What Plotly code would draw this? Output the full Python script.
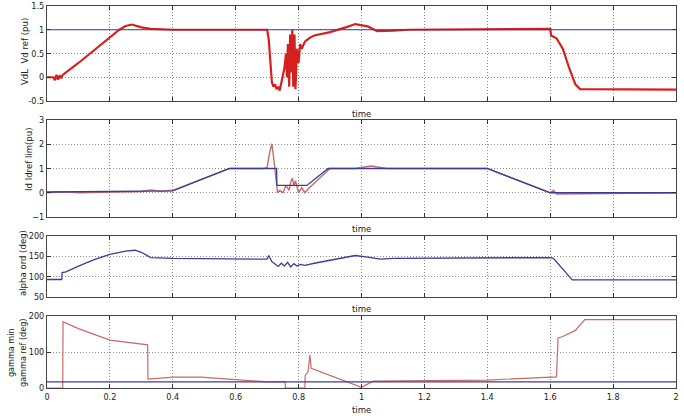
import plotly.graph_objects as go

# ---------------- data ----------------
t_vd = [0.0, 0.02, 0.025, 0.03, 0.035, 0.04, 0.045, 0.05, 0.1, 0.15, 0.2, 0.23, 0.25, 0.27, 0.3, 0.33, 0.4,
        0.7, 0.705, 0.71, 0.715, 0.72, 0.725, 0.73, 0.735, 0.74, 0.745, 0.75, 0.755, 0.76, 0.763, 0.766,
        0.77, 0.773, 0.776, 0.78, 0.783, 0.787, 0.79, 0.795, 0.80, 0.805, 0.81, 0.82, 0.835, 0.85, 0.9,
        0.95, 0.98, 1.02, 1.05, 1.1, 1.15, 1.6, 1.603, 1.62, 1.64, 1.66, 1.68, 1.695, 1.72, 2.0]
vd = [0.0, 0.0, -0.06, 0.05, -0.05, 0.04, -0.02, 0.05, 0.3, 0.57, 0.84, 1.0, 1.08, 1.11, 1.05, 1.02, 1.0,
      1.0, 0.8, 0.3, -0.1, -0.2, -0.15, -0.25, -0.2, -0.28, -0.1, 0.05, 0.2, 0.5, 0.0, 0.7,
      -0.2, 0.9, 0.1, 1.0, -0.2, 0.9, -0.25, 0.6, 0.3, 0.7, 0.6, 0.75, 0.83, 0.88, 0.95,
      1.05, 1.12, 1.07, 0.97, 0.98, 1.0, 1.02, 0.88, 0.82, 0.6, 0.2, -0.15, -0.25, -0.25, -0.26]
t_vdref = [0.0, 2.0]
vdref = [1.0, 1.0]

t_idref = [0.0, 0.3, 0.4, 0.58, 0.73, 0.731, 0.826, 0.894, 1.4, 1.6, 2.0]
idref = [0.03, 0.05, 0.08, 1.0, 1.0, 0.3, 0.3, 1.0, 1.0, 0.0, 0.0]
t_id = [0.0, 0.05, 0.1, 0.2, 0.3, 0.33, 0.36, 0.4, 0.58, 0.69, 0.70, 0.707, 0.715, 0.722, 0.733, 0.74,
        0.75, 0.76, 0.77, 0.775, 0.78, 0.785, 0.79, 0.80, 0.81, 0.82, 0.83, 0.9, 0.98, 1.03, 1.08, 1.4,
        1.6, 1.61, 1.62, 2.0]
id_ = [0.0, 0.04, 0.0, 0.02, 0.05, 0.12, 0.06, 0.1, 1.0, 1.0, 1.05, 1.6, 2.02, 1.3, 0.0, 0.1,
       0.0, 0.3, 0.1, 0.45, 0.6, 0.3, 0.5, 0.0, 0.2, 0.0, 0.15, 1.0, 1.0, 1.1, 1.0, 1.0,
       0.0, 0.1, -0.05, 0.0]

t_alpha = [0.0, 0.047, 0.048, 0.06, 0.1, 0.15, 0.2, 0.25, 0.28, 0.3, 0.33, 0.4, 0.7, 0.705, 0.715,
           0.725, 0.735, 0.745, 0.755, 0.765, 0.775, 0.785, 0.795, 0.805, 0.82, 0.85, 0.9, 0.95,
           0.98, 1.02, 1.06, 1.1, 1.6, 1.61, 1.67, 2.0]
alpha = [93, 93, 110, 112, 126, 142, 155, 163, 165, 160, 147, 145, 143, 152, 137,
         130, 125, 133, 126, 135, 124, 132, 126, 130, 128, 133, 140, 148,
         152, 148, 143, 145, 147, 145, 92, 92]

t_gmin = [0.0, 2.0]
gmin = [17, 17]
t_gref = [0.0, 0.05, 0.051, 0.1, 0.2, 0.32, 0.321, 0.4, 0.49, 0.7, 0.701, 0.757, 0.758, 0.82, 0.821,
          0.83, 0.836, 0.84, 0.9, 1.0, 1.037, 1.4, 1.62, 1.625, 1.64, 1.68, 1.71, 2.0]
gref = [0, 0, 184, 165, 133, 120, 25, 30, 30, 19, 17, 17, 0, 0, 35,
        45, 92, 55, 35, 2, 19, 22, 31, 139, 143, 160, 190, 190]

xticks = [0, 0.2, 0.4, 0.6, 0.8, 1, 1.2, 1.4, 1.6, 1.8, 2]
xtick_text = ["0", "0.2", "0.4", "0.6", "0.8", "1", "1.2", "1.4", "1.6", "1.8", "2"]

# ---------------- figure ----------------
RED = "#d62020"
PINK = "#c86a6a"
BLUE = "#3c3c98"
FONT = "Liberation Sans Narrow, DejaVu Sans Condensed, Liberation Sans, sans-serif"

fig = go.Figure()

def add(x, y, color, width, axis):
    fig.add_trace(go.Scatter(x=x, y=y, mode="lines", line=dict(color=color, width=width),
                             xaxis="x" + axis, yaxis="y" + axis, showlegend=False))

add(t_vd, vd, RED, 2.2, "")
add(t_vdref, vdref, BLUE, 1.2, "")
add(t_id, id_, PINK, 1.4, "2")
add(t_idref, idref, BLUE, 1.3, "2")
add(t_alpha, alpha, BLUE, 1.3, "3")
add(t_gref, gref, PINK, 1.2, "4")
add(t_gmin, gmin, BLUE, 1.2, "4")

W, H, L, R, T, B = 684, 416, 47, 8, 6, 28
PH = H - T - B
PW = W - L - R

def dom(ytop, ybot):
    return [(H - B - ybot) / PH, (H - B - ytop) / PH]

def py(ypix):
    return (H - B - ypix) / PH

def px(xpix):
    return (xpix - L) / PW

GRID = dict(showgrid=True, gridcolor="#8a8a8a", griddash="1px,2px", gridwidth=1, ticks="inside",
            ticklen=4, tickcolor="#333", showline=True, linecolor="#444", linewidth=1,
            mirror="ticks", zeroline=False, tickfont=dict(family=FONT, size=9, color="#222"))
common_x = dict(GRID, range=[0, 2], tickvals=xticks, ticktext=xtick_text)
common_y = dict(GRID)

layout = dict(
    width=W, height=H, margin=dict(l=L, r=R, t=T, b=B, autoexpand=False),
    paper_bgcolor="white", plot_bgcolor="white", showlegend=False,
    xaxis=dict(common_x, anchor="y", showticklabels=False),
    xaxis2=dict(common_x, anchor="y2", showticklabels=False),
    xaxis3=dict(common_x, anchor="y3", showticklabels=False),
    xaxis4=dict(common_x, anchor="y4", showticklabels=True),
    yaxis=dict(common_y, anchor="x", domain=dom(6, 101), range=[-0.5, 1.5],
               tickvals=[-0.5, 0, 0.5, 1, 1.5], ticktext=["-0.5", "0", "0.5", "1", "1.5"]),
    yaxis2=dict(common_y, anchor="x2", domain=dom(120, 217), range=[-1, 3],
                tickvals=[-1, 0, 1, 2, 3]),
    yaxis3=dict(common_y, anchor="x3", domain=dom(236, 297), range=[50, 200],
                tickvals=[50, 100, 150, 200]),
    yaxis4=dict(common_y, anchor="x4", domain=dom(316, 388), range=[0, 200],
                tickvals=[0, 100, 200]),
)
fig.update_layout(**layout)

ann_font = dict(family=FONT, size=9.5, color="#222")
for yp in [113, 228, 308, 409]:
    fig.add_annotation(text="time", x=0.5, y=py(yp), xref="paper", yref="paper",
                       showarrow=False, font=ann_font, xanchor="center", yanchor="middle")

ylabels = [("VdL  Vd ref (pu)", 25, 52, 9.5), ("Id Idref lim(pu)", 28, 160, 9.5),
           ("alpha ord (deg)", 22, 263, 9.5), ("gamma min<br>gamma ref (deg)", 17, 352, 9)]
for txt, xp, yp, fs in ylabels:
    fig.add_annotation(text=txt, x=px(xp), y=py(yp), xref="paper", yref="paper",
                       showarrow=False, textangle=-90, font=dict(ann_font, size=fs),
                       xanchor="center", yanchor="middle")

fig.write_html("out.html", config={"displayModeBar": False},
               post_script="document.body.style.margin='0px';document.body.style.padding='0px';")
